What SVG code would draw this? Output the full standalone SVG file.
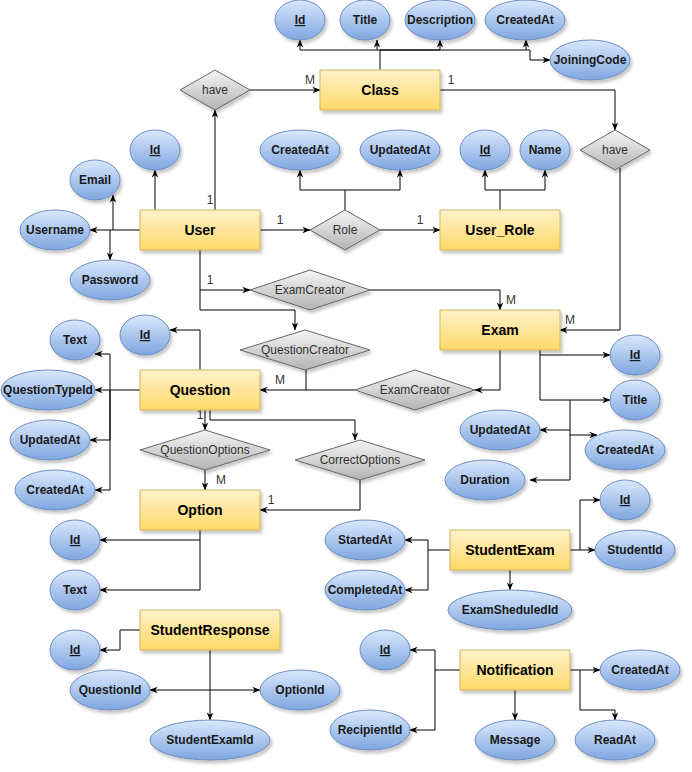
<svg xmlns="http://www.w3.org/2000/svg" width="692" height="772" viewBox="0 0 692 772">
  <defs>
    <linearGradient id="gEnt" x1="0" y1="0" x2="0" y2="1">
      <stop offset="0" stop-color="#fff2cc"/>
      <stop offset="1" stop-color="#ffd966"/>
    </linearGradient>
    <linearGradient id="gAttr" x1="0" y1="0" x2="0" y2="1">
      <stop offset="0" stop-color="#dae8fc"/>
      <stop offset="1" stop-color="#7ea6e0"/>
    </linearGradient>
    <linearGradient id="gRel" x1="0" y1="0" x2="0" y2="1">
      <stop offset="0" stop-color="#f5f5f5"/>
      <stop offset="1" stop-color="#b3b3b3"/>
    </linearGradient>
    <filter id="shadow" x="-20%" y="-20%" width="150%" height="160%">
      <feDropShadow dx="2" dy="3" stdDeviation="1.5" flood-color="#000" flood-opacity="0.22"/>
    </filter>
    <marker id="arr" viewBox="0 0 10 10" refX="9.5" refY="5" markerWidth="8" markerHeight="8" markerUnits="userSpaceOnUse" orient="auto-start-reverse">
      <path d="M0,1 L10,5 L0,9 L3,5 z" fill="#000"/>
    </marker>
    <style>
      .ent rect { fill: url(#gEnt); stroke: #d6b656; stroke-width: 1; filter: url(#shadow); }
      .attr ellipse { fill: url(#gAttr); stroke: #6c8ebf; stroke-width: 1; filter: url(#shadow); }
      .rel polygon { fill: url(#gRel); stroke: #666666; stroke-width: 1; filter: url(#shadow); }
      text { font-family: "Liberation Sans", Arial, Helvetica, sans-serif; text-anchor: middle; }
      .ent text { font-size: 14px; font-weight: bold; fill: #000; }
      .attr text { font-size: 12px; font-weight: bold; fill: #1a1a1a; }
      .rel text { font-size: 12px; fill: #333333; }
      .key { text-decoration: underline; }
      .edges path { fill: none; stroke: #000; stroke-width: 1; }
      .edges .a { marker-end: url(#arr); }
      .card { font-size: 12px; fill: #333333; }
    </style>
  </defs>

  <!-- connectors -->
  <g id="connectors" class="edges">
    <!-- Class attributes -->
    <path d="M380,70 V50"/>
    <path class="a" d="M380,50 H300 V40"/>
    <path class="a" d="M377,50 V40"/>
    <path class="a" d="M380,50 H440 V40"/>
    <path class="a" d="M380,50 H526 V40"/>
    <path class="a" d="M526,50 H530 V60 H550"/>
    <!-- have (User - Class) -->
    <path class="a" d="M250,90 H320"/>
    <path class="a" d="M215,210 V110"/>
    <!-- have (Class - Exam) -->
    <path class="a" d="M440,90 H615 V130"/>
    <path class="a" d="M620,168 V330 H560"/>
    <!-- Role -->
    <path class="a" d="M260,230 H310"/>
    <path class="a" d="M380,230 H440"/>
    <path class="a" d="M345,210 V190 H300 V170"/>
    <path class="a" d="M345,190 H400 V170"/>
    <!-- User_Role attributes -->
    <path class="a" d="M500,210 V190 H485 V170"/>
    <path class="a" d="M500,190 H545 V170"/>
    <!-- User attributes -->
    <path class="a" d="M155,210 V170"/>
    <path class="a" d="M140,230 H90"/>
    <path class="a" d="M113,230 V195"/>
    <path class="a" d="M110,230 V260"/>
    <!-- User - ExamCreator / QuestionCreator -->
    <path class="a" d="M200,250 V310 H295 V330"/>
    <path class="a" d="M200,290 H250"/>
    <path class="a" d="M370,290 H500 V310"/>
    <!-- Exam - ExamCreator - Question -->
    <path class="a" d="M500,350 V390 H475"/>
    <path class="a" d="M355,390 H260"/>
    <path d="M306,370 V390"/>
    <!-- Exam attributes -->
    <path class="a" d="M540,350 V400 H610"/>
    <path class="a" d="M540,355 H610"/>
    <path class="a" d="M570,400 V480 H530"/>
    <path class="a" d="M570,430 H540"/>
    <path class="a" d="M570,435 H597"/>
    <!-- Question attributes -->
    <path class="a" d="M200,370 V330 H170"/>
    <path class="a" d="M140,390 H95"/>
    <path class="a" d="M110,390 V354 H95"/>
    <path class="a" d="M110,390 V440 H90"/>
    <path class="a" d="M110,390 V490 H95"/>
    <!-- Question - Option -->
    <path class="a" d="M205,410 V430"/>
    <path class="a" d="M210,410 V420 H355 V440"/>
    <path class="a" d="M205,470 V490"/>
    <path class="a" d="M360,480 V510 H260"/>
    <!-- Option attributes -->
    <path class="a" d="M200,530 V590 H100"/>
    <path class="a" d="M200,540 H100"/>
    <!-- StudentResponse attributes -->
    <path class="a" d="M140,630 H120 V650 H100"/>
    <path class="a" d="M210,650 V720"/>
    <path class="a" d="M150,690 H260" marker-start="url(#arr)"/>
    <!-- StudentExam attributes -->
    <path class="a" d="M450,550 H428 V540 H405"/>
    <path class="a" d="M428,550 V590 H405"/>
    <path class="a" d="M570,550 H595"/>
    <path class="a" d="M580,550 V500 H600"/>
    <path class="a" d="M510,570 V590"/>
    <!-- Notification attributes -->
    <path class="a" d="M460,670 H435 V650 H410"/>
    <path class="a" d="M435,670 V730 H410"/>
    <path class="a" d="M515,690 V720"/>
    <path class="a" d="M570,670 H600"/>
    <path class="a" d="M580,670 V710 H615 V720"/>

    <!-- cardinalities -->
    <text class="card" x="310" y="84">M</text>
    <text class="card" x="451" y="84">1</text>
    <text class="card" x="210" y="204">1</text>
    <text class="card" x="280" y="224">1</text>
    <text class="card" x="420" y="224">1</text>
    <text class="card" x="210" y="284">1</text>
    <text class="card" x="511" y="304">M</text>
    <text class="card" x="570" y="324">M</text>
    <text class="card" x="280" y="384">M</text>
    <text class="card" x="200" y="419">1</text>
    <text class="card" x="221" y="484">M</text>
    <text class="card" x="271" y="504">1</text>
  </g>

  <!-- entities -->
  <g id="class" class="ent"><rect x="320" y="70" width="120" height="40"/><text x="380" y="95">Class</text></g>
  <g id="user" class="ent"><rect x="140" y="210" width="120" height="40"/><text x="200" y="235">User</text></g>
  <g id="user-role" class="ent"><rect x="440" y="210" width="120" height="40"/><text x="500" y="235">User_Role</text></g>
  <g id="exam" class="ent"><rect x="440" y="310" width="120" height="40"/><text x="500" y="335">Exam</text></g>
  <g id="question" class="ent"><rect x="140" y="370" width="120" height="40"/><text x="200" y="395">Question</text></g>
  <g id="option" class="ent"><rect x="140" y="490" width="120" height="40"/><text x="200" y="515">Option</text></g>
  <g id="student-response" class="ent"><rect x="140" y="610" width="140" height="40"/><text x="210" y="635">StudentResponse</text></g>
  <g id="student-exam" class="ent"><rect x="450" y="530" width="120" height="40"/><text x="510" y="555">StudentExam</text></g>
  <g id="notification" class="ent"><rect x="460" y="650" width="110" height="40"/><text x="515" y="675">Notification</text></g>

  <!-- relationships -->
  <g id="rel-have-class" class="rel"><polygon points="180,90 215,70 250,90 215,110"/><text x="215" y="94">have</text></g>
  <g id="rel-have-exam" class="rel"><polygon points="580,150 615,130 650,150 615,170"/><text x="615" y="154">have</text></g>
  <g id="rel-role" class="rel"><polygon points="310,230 345,210 380,230 345,250"/><text x="345" y="234">Role</text></g>
  <g id="rel-exam-creator" class="rel"><polygon points="250,290 310,270 370,290 310,310"/><text x="310" y="294">ExamCreator</text></g>
  <g id="rel-question-creator" class="rel"><polygon points="240,350 305,330 370,350 305,370"/><text x="305" y="354">QuestionCreator</text></g>
  <g id="rel-exam-creator-question" class="rel"><polygon points="355,390 415,370 475,390 415,410"/><text x="415" y="394">ExamCreator</text></g>
  <g id="rel-question-options" class="rel"><polygon points="140,450 205,430 270,450 205,470"/><text x="205" y="454">QuestionOptions</text></g>
  <g id="rel-correct-options" class="rel"><polygon points="295,460 360,440 425,460 360,480"/><text x="360" y="464">CorrectOptions</text></g>

  <!-- Class attributes -->
  <g id="class-id" class="attr"><ellipse cx="300" cy="20" rx="25" ry="20"/><text class="key" x="300" y="24">Id</text></g>
  <g id="class-title" class="attr"><ellipse cx="365" cy="20" rx="25" ry="20"/><text x="365" y="24">Title</text></g>
  <g id="class-description" class="attr"><ellipse cx="440" cy="20" rx="35" ry="20"/><text x="440" y="24">Description</text></g>
  <g id="class-created" class="attr"><ellipse cx="525" cy="20" rx="40" ry="20"/><text x="525" y="24">CreatedAt</text></g>
  <g id="class-joining" class="attr"><ellipse cx="590" cy="60" rx="40" ry="20"/><text x="590" y="64">JoiningCode</text></g>

  <!-- Role attributes -->
  <g id="role-created" class="attr"><ellipse cx="300" cy="150" rx="40" ry="20"/><text x="300" y="154">CreatedAt</text></g>
  <g id="role-updated" class="attr"><ellipse cx="400" cy="150" rx="40" ry="20"/><text x="400" y="154">UpdatedAt</text></g>

  <!-- User_Role attributes -->
  <g id="user-role-id" class="attr"><ellipse cx="485" cy="150" rx="25" ry="20"/><text class="key" x="485" y="154">Id</text></g>
  <g id="user-role-name" class="attr"><ellipse cx="545" cy="150" rx="25" ry="20"/><text x="545" y="154">Name</text></g>

  <!-- User attributes -->
  <g id="user-id" class="attr"><ellipse cx="155" cy="150" rx="25" ry="20"/><text class="key" x="155" y="154">Id</text></g>
  <g id="user-email" class="attr"><ellipse cx="95" cy="180" rx="25" ry="20"/><text x="95" y="184">Email</text></g>
  <g id="user-username" class="attr"><ellipse cx="55" cy="230" rx="35" ry="20"/><text x="55" y="234">Username</text></g>
  <g id="user-password" class="attr"><ellipse cx="110" cy="280" rx="40" ry="20"/><text x="110" y="284">Password</text></g>

  <!-- Exam attributes -->
  <g id="exam-id" class="attr"><ellipse cx="635" cy="355" rx="25" ry="20"/><text class="key" x="635" y="359">Id</text></g>
  <g id="exam-title" class="attr"><ellipse cx="635" cy="400" rx="25" ry="20"/><text x="635" y="404">Title</text></g>
  <g id="exam-updated" class="attr"><ellipse cx="500" cy="430" rx="40" ry="20"/><text x="500" y="434">UpdatedAt</text></g>
  <g id="exam-created" class="attr"><ellipse cx="625" cy="450" rx="40" ry="20"/><text x="625" y="454">CreatedAt</text></g>
  <g id="exam-duration" class="attr"><ellipse cx="485" cy="480" rx="40" ry="20"/><text x="485" y="484">Duration</text></g>

  <!-- Question attributes -->
  <g id="question-id" class="attr"><ellipse cx="145" cy="335" rx="25" ry="20"/><text class="key" x="145" y="339">Id</text></g>
  <g id="question-text" class="attr"><ellipse cx="75" cy="340" rx="25" ry="20"/><text x="75" y="344">Text</text></g>
  <g id="question-type" class="attr"><ellipse cx="48" cy="390" rx="47" ry="20"/><text x="48" y="394">QuestionTypeId</text></g>
  <g id="question-updated" class="attr"><ellipse cx="50" cy="440" rx="40" ry="20"/><text x="50" y="444">UpdatedAt</text></g>
  <g id="question-created" class="attr"><ellipse cx="55" cy="490" rx="40" ry="20"/><text x="55" y="494">CreatedAt</text></g>

  <!-- Option attributes -->
  <g id="option-id" class="attr"><ellipse cx="75" cy="540" rx="25" ry="20"/><text class="key" x="75" y="544">Id</text></g>
  <g id="option-text" class="attr"><ellipse cx="75" cy="590" rx="25" ry="20"/><text x="75" y="594">Text</text></g>

  <!-- StudentResponse attributes -->
  <g id="response-id" class="attr"><ellipse cx="75" cy="650" rx="25" ry="20"/><text class="key" x="75" y="654">Id</text></g>
  <g id="response-question" class="attr"><ellipse cx="110" cy="690" rx="40" ry="20"/><text x="110" y="694">QuestionId</text></g>
  <g id="response-option" class="attr"><ellipse cx="300" cy="690" rx="40" ry="20"/><text x="300" y="694">OptionId</text></g>
  <g id="response-student-exam" class="attr"><ellipse cx="210" cy="740" rx="60" ry="20"/><text x="210" y="744">StudentExamId</text></g>

  <!-- StudentExam attributes -->
  <g id="se-id" class="attr"><ellipse cx="625" cy="500" rx="25" ry="20"/><text class="key" x="625" y="504">Id</text></g>
  <g id="se-student" class="attr"><ellipse cx="635" cy="550" rx="40" ry="20"/><text x="635" y="554">StudentId</text></g>
  <g id="se-started" class="attr"><ellipse cx="365" cy="540" rx="40" ry="20"/><text x="365" y="544">StartedAt</text></g>
  <g id="se-completed" class="attr"><ellipse cx="365" cy="590" rx="40" ry="20"/><text x="365" y="594">CompletedAt</text></g>
  <g id="se-scheduled" class="attr"><ellipse cx="510" cy="610" rx="62" ry="20"/><text x="510" y="614">ExamSheduledId</text></g>

  <!-- Notification attributes -->
  <g id="notif-id" class="attr"><ellipse cx="385" cy="650" rx="25" ry="20"/><text class="key" x="385" y="654">Id</text></g>
  <g id="notif-recipient" class="attr"><ellipse cx="370" cy="730" rx="40" ry="20"/><text x="370" y="734">RecipientId</text></g>
  <g id="notif-message" class="attr"><ellipse cx="515" cy="740" rx="40" ry="20"/><text x="515" y="744">Message</text></g>
  <g id="notif-created" class="attr"><ellipse cx="640" cy="670" rx="40" ry="20"/><text x="640" y="674">CreatedAt</text></g>
  <g id="notif-read" class="attr"><ellipse cx="615" cy="740" rx="40" ry="20"/><text x="615" y="744">ReadAt</text></g>
</svg>
